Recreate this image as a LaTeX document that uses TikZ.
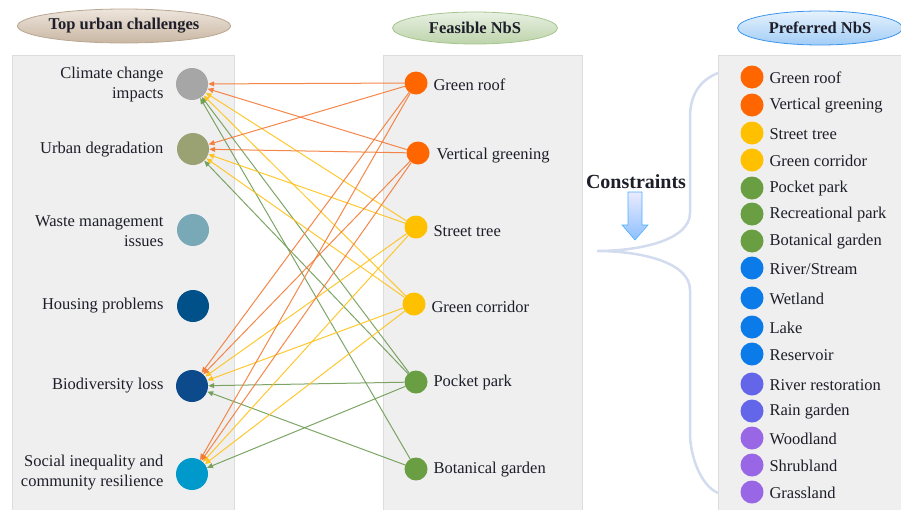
\documentclass[tikz,border=0pt]{standalone}
\usepackage{fontspec}
\setmainfont{Liberation Serif}
\usetikzlibrary{arrows.meta,shapes.geometric}

\definecolor{panelgray}{HTML}{EFEFEF}
\definecolor{panelline}{HTML}{DCDCDC}
\definecolor{txt}{HTML}{1E1E2A}
\definecolor{nbsorange}{HTML}{FF6600}
\definecolor{nbsyellow}{HTML}{FFC000}
\definecolor{nbsgreen}{HTML}{6A9E42}
\definecolor{nbsblue}{HTML}{0A7BE8}
\definecolor{nbsviolet}{HTML}{6466EA}
\definecolor{nbspurple}{HTML}{9966E6}
\definecolor{lnorange}{HTML}{F47A36}
\definecolor{lnyellow}{HTML}{FFC21A}
\definecolor{lngreen}{HTML}{6F9C55}
\definecolor{bracecol}{HTML}{D3DCEF}
\definecolor{tantop}{HTML}{EDE5DC}
\definecolor{tanbot}{HTML}{C9B6A2}
\definecolor{tanline}{HTML}{B9A792}

\begin{document}
\begin{tikzpicture}[x=1pt,y=-1pt,
    every node/.style={text=txt,font=\fontsize{16.5}{20}\selectfont},
    panel/.style={fill=panelgray,draw=panelline,line width=1pt},
    dot/.style={circle,inner sep=0pt,minimum size=#1},
    header/.style={ellipse,draw,line width=0.8pt,inner sep=0pt,font=\fontsize{16.5}{20}\selectfont\bfseries},
    link/.style={line width=1pt,opacity=0.9,-{Triangle[length=6pt,width=5pt]}}]
  \useasboundingbox (0,0) rectangle (901,509);

  % panels
  \draw[panel] (12,55) rectangle (234,515);
  \draw[panel] (383,55) rectangle (582,515);
  \draw[panel] (718,55) rectangle (910,515);

  % headers
  \node[header,draw=tanline,top color=tantop,bottom color=tanbot,
        minimum width=195pt,minimum height=34pt] (hchal) at (124,26) {Top urban challenges};
  \node[header,draw=nbsgreen!60,top color=nbsgreen!15,bottom color=nbsgreen!45,
        minimum width=165pt,minimum height=32pt] (hfeas) at (475,28) {Feasible NbS};
  \node[header,draw=nbsblue!80,top color=nbsblue!10,bottom color=nbsblue!38,
        minimum width=165pt,minimum height=34pt] (hpref) at (820,28) {Preferred NbS};

  % urban challenges
  \node[dot=32pt,fill={rgb,255:red,166;green,166;blue,166}] (c1) at (192,84) {};
  \node[dot=32pt,fill={rgb,255:red,154;green,162;blue,116}] (c2) at (193,149) {};
  \node[dot=32pt,fill={rgb,255:red,121;green,169;blue,183}] (c3) at (193,230) {};
  \node[dot=32pt,fill={rgb,255:red,0;green,81;blue,137}] (c4) at (193,306) {};
  \node[dot=32pt,fill={rgb,255:red,12;green,74;blue,140}] (c5) at (192,386) {};
  \node[dot=32pt,fill={rgb,255:red,0;green,153;blue,204}] (c6) at (192,474) {};
  \node[anchor=east,align=right] (lc1) at (167,85) {Climate change\\impacts};
  \node[anchor=east,align=right] (lc2) at (167,150) {Urban degradation};
  \node[anchor=east,align=right] (lc3) at (167,231) {Waste management\\issues};
  \node[anchor=east,align=right] (lc4) at (167,306) {Housing problems};
  \node[anchor=east,align=right] (lc5) at (167,386) {Biodiversity loss};
  \node[anchor=east,align=right] (lc6) at (167,473) {Social inequality and\\community resilience};

  % feasible NbS
  \node[dot=23pt,fill=nbsorange] (m1) at (416,83) {};
  \node[dot=23pt,fill=nbsorange] (m2) at (418,153) {};
  \node[dot=23pt,fill=nbsyellow] (m3) at (416,227) {};
  \node[dot=23pt,fill=nbsyellow] (m4) at (414,304) {};
  \node[dot=23pt,fill=nbsgreen] (m5) at (416,382) {};
  \node[dot=23pt,fill=nbsgreen] (m6) at (416,469) {};
  \node[anchor=west] (lm1) at (430,85) {Green roof};
  \node[anchor=west] (lm2) at (433,156) {Vertical greening};
  \node[anchor=west] (lm3) at (430,231) {Street tree};
  \node[anchor=west] (lm4) at (428,307) {Green corridor};
  \node[anchor=west] (lm5) at (430,383) {Pocket park};
  \node[anchor=west] (lm6) at (430,470) {Botanical garden};

  % links
  \foreach \m/\c in {m5/c1,m5/c2,m5/c5,m5/c6,m6/c1,m6/c5}
    \draw[link,lngreen] (\m) -- (\c);
  \foreach \m/\c in {m3/c1,m3/c2,m3/c5,m3/c6,m4/c1,m4/c2,m4/c5,m4/c6}
    \draw[link,lnyellow] (\m) -- (\c);
  \foreach \m/\c in {m1/c1,m1/c2,m1/c5,m1/c6,m2/c1,m2/c2,m2/c5,m2/c6}
    \draw[link,lnorange] (\m) -- (\c);

  % brace and constraints
  \draw[bracecol,line width=2.5pt]
    (718,73) .. controls (700,80) and (690,95) .. (690,117) -- (690,213)
    .. controls (690,240) and (640,251) .. (597,251)
    .. controls (640,251) and (690,262) .. (690,290) -- (690,433)
    .. controls (690,455) and (700,485) .. (718,493);
  \node[font=\fontsize{20}{24}\selectfont\bfseries] (constr) at (636,182) {Constraints};
  \shade[top color=blue!8,bottom color=cyan!45!blue!45,draw=blue!45!cyan!70,line width=0.6pt]
    (628,192) -- (642,192) -- (642,225) -- (648,225) -- (635,240) -- (622,225) -- (628,225) -- cycle;

  % preferred NbS
  \foreach \i/\y/\col/\name in {1/77/nbsorange/Green roof,2/105/nbsorange/Vertical greening,
      3/133/nbsyellow/Street tree,4/160/nbsyellow/Green corridor,5/188/nbsgreen/Pocket park,
      6/214/nbsgreen/Recreational park,7/241/nbsgreen/Botanical garden,8/268/nbsblue/{River/Stream},
      9/298/nbsblue/Wetland,10/327/nbsblue/Lake,11/354/nbsblue/Reservoir,
      12/384/nbsviolet/River restoration,13/411/nbsviolet/Rain garden,14/438/nbspurple/Woodland,
      15/465/nbspurple/Shrubland,16/492/nbspurple/Grassland}{
    \node[dot=23pt,fill=\col] (p\i) at (752,\y) {};
    \node[anchor=west] (lp\i) at (766,\y+1) {\name};
  }
\end{tikzpicture}
\end{document}
